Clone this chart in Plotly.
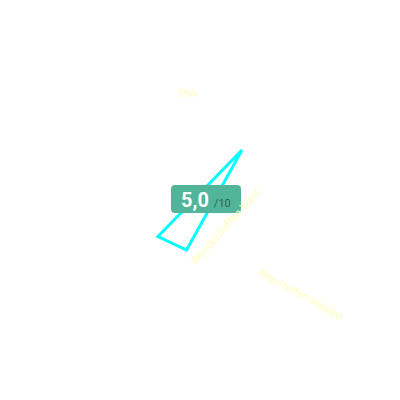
import plotly.graph_objects as go

# triangle of the score shape (angles in degrees, radius on a 0-10 scale)
theta_vals = [50, 221, 255]
r_vals = [3.4, 2.9, 2.7]

score = "5,0"
score_max = "/10"

labels = ["39A", "Wep treffen Walden", "Wandertreffen Wald"]

OFF = 8  # page body margin


def px(x):
    return (x - OFF) / 400


def py(y):
    return 1 - (y - OFF) / 400


fig = go.Figure()
fig.add_trace(go.Scatterpolar(
    r=r_vals + r_vals[:1],
    theta=theta_vals + theta_vals[:1],
    mode="lines",
    line=dict(color="#00ffff", width=3),
    hoverinfo="skip",
    showlegend=False,
))

fig.update_layout(
    width=400, height=400,
    margin=dict(l=0, r=0, t=0, b=0),
    paper_bgcolor="white",
    polar=dict(
        domain=dict(x=[0, 384 / 400], y=[16 / 400, 1]),
        bgcolor="white",
        radialaxis=dict(range=[0, 10], visible=False, showgrid=False),
        angularaxis=dict(visible=False, showgrid=False, rotation=0, direction="counterclockwise"),
    ),
    font=dict(family="Roboto"),
)

# rounded badge behind the score
x0, x1, y0, y1, rr = px(171), px(241), py(213), py(185), 4 / 400
fig.add_shape(
    type="path", xref="paper", yref="paper",
    path=(f"M {x0+rr},{y0} L {x1-rr},{y0} Q {x1},{y0} {x1},{y0+rr} "
          f"L {x1},{y1-rr} Q {x1},{y1} {x1-rr},{y1} L {x0+rr},{y1} "
          f"Q {x0},{y1} {x0},{y1-rr} L {x0},{y0+rr} Q {x0},{y0} {x0+rr},{y0} Z"),
    fillcolor="#52b59a", line=dict(width=0), layer="above",
)
fig.add_annotation(
    x=px(206), y=py(200), xref="paper", yref="paper", showarrow=False,
    xanchor="center", yanchor="middle",
    text=f"<b>{score}</b> <span style='font-size:11px;color:#2f5f52'>{score_max}</span>",
    font=dict(size=20, color="white"),
)

lab_color = "#ffffbf"
fig.add_annotation(x=px(188), y=py(93), xref="paper", yref="paper", showarrow=False,
                   xanchor="center", yanchor="middle",
                   text=labels[0], font=dict(size=11, color=lab_color))
fig.add_annotation(x=px(301), y=py(294), xref="paper", yref="paper", showarrow=False,
                   xanchor="center", yanchor="middle",
                   text=labels[1], textangle=29, font=dict(size=11, color=lab_color))
fig.add_annotation(x=px(225), y=py(227), xref="paper", yref="paper", showarrow=False,
                   xanchor="center", yanchor="middle",
                   text=labels[2], textangle=-48, font=dict(size=11, color=lab_color))

fig.write_html("out.html")
